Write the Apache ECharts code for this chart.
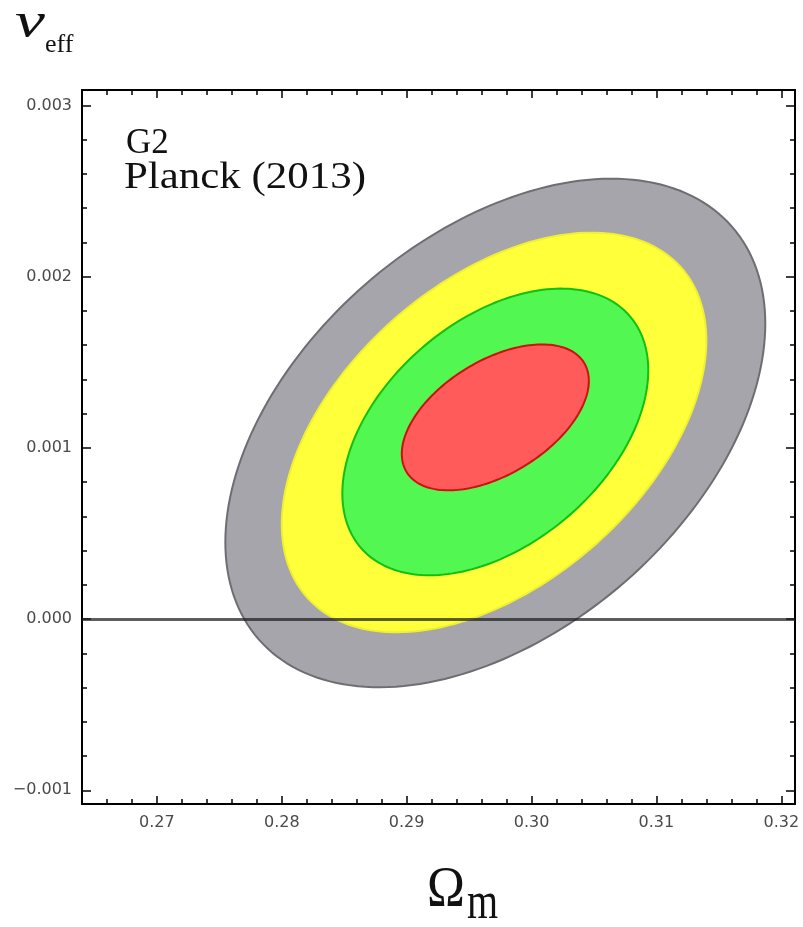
<!DOCTYPE html>
<html>
<head>
<meta charset="utf-8">
<title>G2 Planck (2013)</title>
<script src="https://cdn.jsdelivr.net/npm/echarts@6/dist/echarts.min.js"></script>
<style>
  html, body { margin: 0; padding: 0; background: #fff; }
  #chart { width: 803px; height: 927px; }
</style>
</head>
<body>
<div id="chart"></div>
<script>
// confidence contours, drawn outer (gray) to inner (red)
const contourNames = ['gray', 'yellow', 'green', 'red'];
const centerOmega = [0.2971, 0.2970, 0.2971, 0.2971];
const centerNu = [0.001087, 0.00109, 0.001093, 0.001178];
const halfWidthOmega = [0.02162, 0.01700, 0.01225, 0.00749];
const halfHeightNu = [0.001485, 0.001167, 0.000837, 0.000426];
const correlation = [0.43, 0.46, 0.43, 0.5];

// tick marks
const omegaMajor = [0.27, 0.28, 0.29, 0.30, 0.31, 0.32];
const omegaMinor = [0.266, 0.268, 0.272, 0.274, 0.276, 0.278, 0.282, 0.284, 0.286, 0.288,
  0.292, 0.294, 0.296, 0.298, 0.302, 0.304, 0.306, 0.308, 0.312, 0.314, 0.316, 0.318];
const nuMajor = [-0.001, 0, 0.001, 0.002, 0.003];
const nuMinor = [-0.0008, -0.0006, -0.0004, -0.0002, 0.0002, 0.0004, 0.0006, 0.0008,
  0.0012, 0.0014, 0.0016, 0.0018, 0.0022, 0.0024, 0.0026, 0.0028];

const fills = ['#a5a5ab', '#ffff3a', '#52f752', '#ff5b5b'];
const edges = ['#6e6e72', '#f0f030', '#10c010', '#d01010'];

const X_MIN = 0.264, X_MAX = 0.3211;
const Y_MIN = -0.00108, Y_MAX = 0.00309;

function omegaAxis(position, ticks, len, labels) {
  return {
    type: 'value', position: position, min: X_MIN, max: X_MAX,
    axisLine: { show: true, onZero: false, lineStyle: { color: '#000', width: 2 } },
    axisTick: { show: true, inside: true, length: len, customValues: ticks,
      lineStyle: { color: '#000', width: 1.5 } },
    axisLabel: { show: labels, customValues: ticks, margin: 11, color: '#4a4a4a',
      fontFamily: 'DejaVu Sans', fontSize: 16,
      formatter: function (v) { return v.toFixed(2); } },
    splitLine: { show: false }
  };
}

function nuAxis(position, ticks, len, labels) {
  return {
    type: 'value', position: position, min: Y_MIN, max: Y_MAX,
    axisLine: { show: true, onZero: false, lineStyle: { color: '#000', width: 2 } },
    axisTick: { show: true, inside: true, length: len, customValues: ticks,
      lineStyle: { color: '#000', width: 1.5 } },
    axisLabel: { show: labels, customValues: ticks, margin: 10, color: '#4a4a4a',
      fontFamily: 'DejaVu Sans', fontSize: 16,
      formatter: function (v) { return v.toFixed(3).replace('-', '\u2212'); } },
    splitLine: { show: false }
  };
}

function renderEllipse(params, api) {
  const cx = api.value(0), cy = api.value(1);
  const ax = api.value(2), ay = api.value(3), rho = api.value(4);
  const k = Math.sqrt(1 - rho * rho);
  const pts = [];
  for (let i = 0; i < 200; i++) {
    const t = i / 200 * Math.PI * 2;
    pts.push(api.coord([cx + ax * Math.cos(t), cy + ay * (rho * Math.cos(t) + k * Math.sin(t))]));
  }
  const idx = params.dataIndex;
  return {
    type: 'polygon',
    shape: { points: pts },
    style: { fill: fills[idx], stroke: edges[idx], lineWidth: 2 }
  };
}

const contourData = contourNames.map(function (name, i) {
  return { name: name, value: [centerOmega[i], centerNu[i], halfWidthOmega[i], halfHeightNu[i], correlation[i]] };
});

function label(text, x, y, font, sx, sy) {
  return {
    type: 'text', x: x, y: y, scaleX: sx || 1, scaleY: sy || 1,
    style: { text: text, font: font, fill: '#111', align: 'left', verticalAlign: 'top' }
  };
}

const chart = echarts.init(document.getElementById('chart'));
chart.setOption({
  animation: false,
  grid: { left: 82, right: 8, top: 90, bottom: 123 },
  xAxis: [
    omegaAxis('bottom', omegaMajor, 8, true),
    omegaAxis('bottom', omegaMinor, 5, false),
    omegaAxis('top', omegaMajor, 8, false),
    omegaAxis('top', omegaMinor, 5, false)
  ],
  yAxis: [
    nuAxis('left', nuMajor, 9, true),
    nuAxis('left', nuMinor, 5, false),
    nuAxis('right', nuMajor, 9, false),
    nuAxis('right', nuMinor, 5, false)
  ],
  series: [
    {
      type: 'custom',
      xAxisIndex: 0, yAxisIndex: 0,
      clip: true,
      renderItem: renderEllipse,
      data: contourData
    },
    {
      type: 'line',
      xAxisIndex: 0, yAxisIndex: 0,
      data: [],
      z: 5,
      markLine: {
        silent: true, symbol: 'none',
        label: { show: false },
        lineStyle: { color: 'rgba(30,30,30,0.72)', width: 3, type: 'solid' },
        data: [{ yAxis: 0 }]
      }
    }
  ],
  graphic: [
    label('\u03bd', 15, -1, 'italic 50px "Liberation Serif"', 1.35, 1),
    label('eff', 45, 32, '26px "Liberation Serif"'),
    label('G2', 126, 126, '35px "Liberation Serif"'),
    label('Planck (2013)', 124, 160, '37px "Liberation Serif"', 1.16, 1),
    label('\u03a9', 427, 862, '51px "Liberation Serif"', 1, 1.13),
    label('m', 467, 878, '40px "Liberation Serif"', 1, 1.3)
  ]
});
</script>
</body>
</html>
